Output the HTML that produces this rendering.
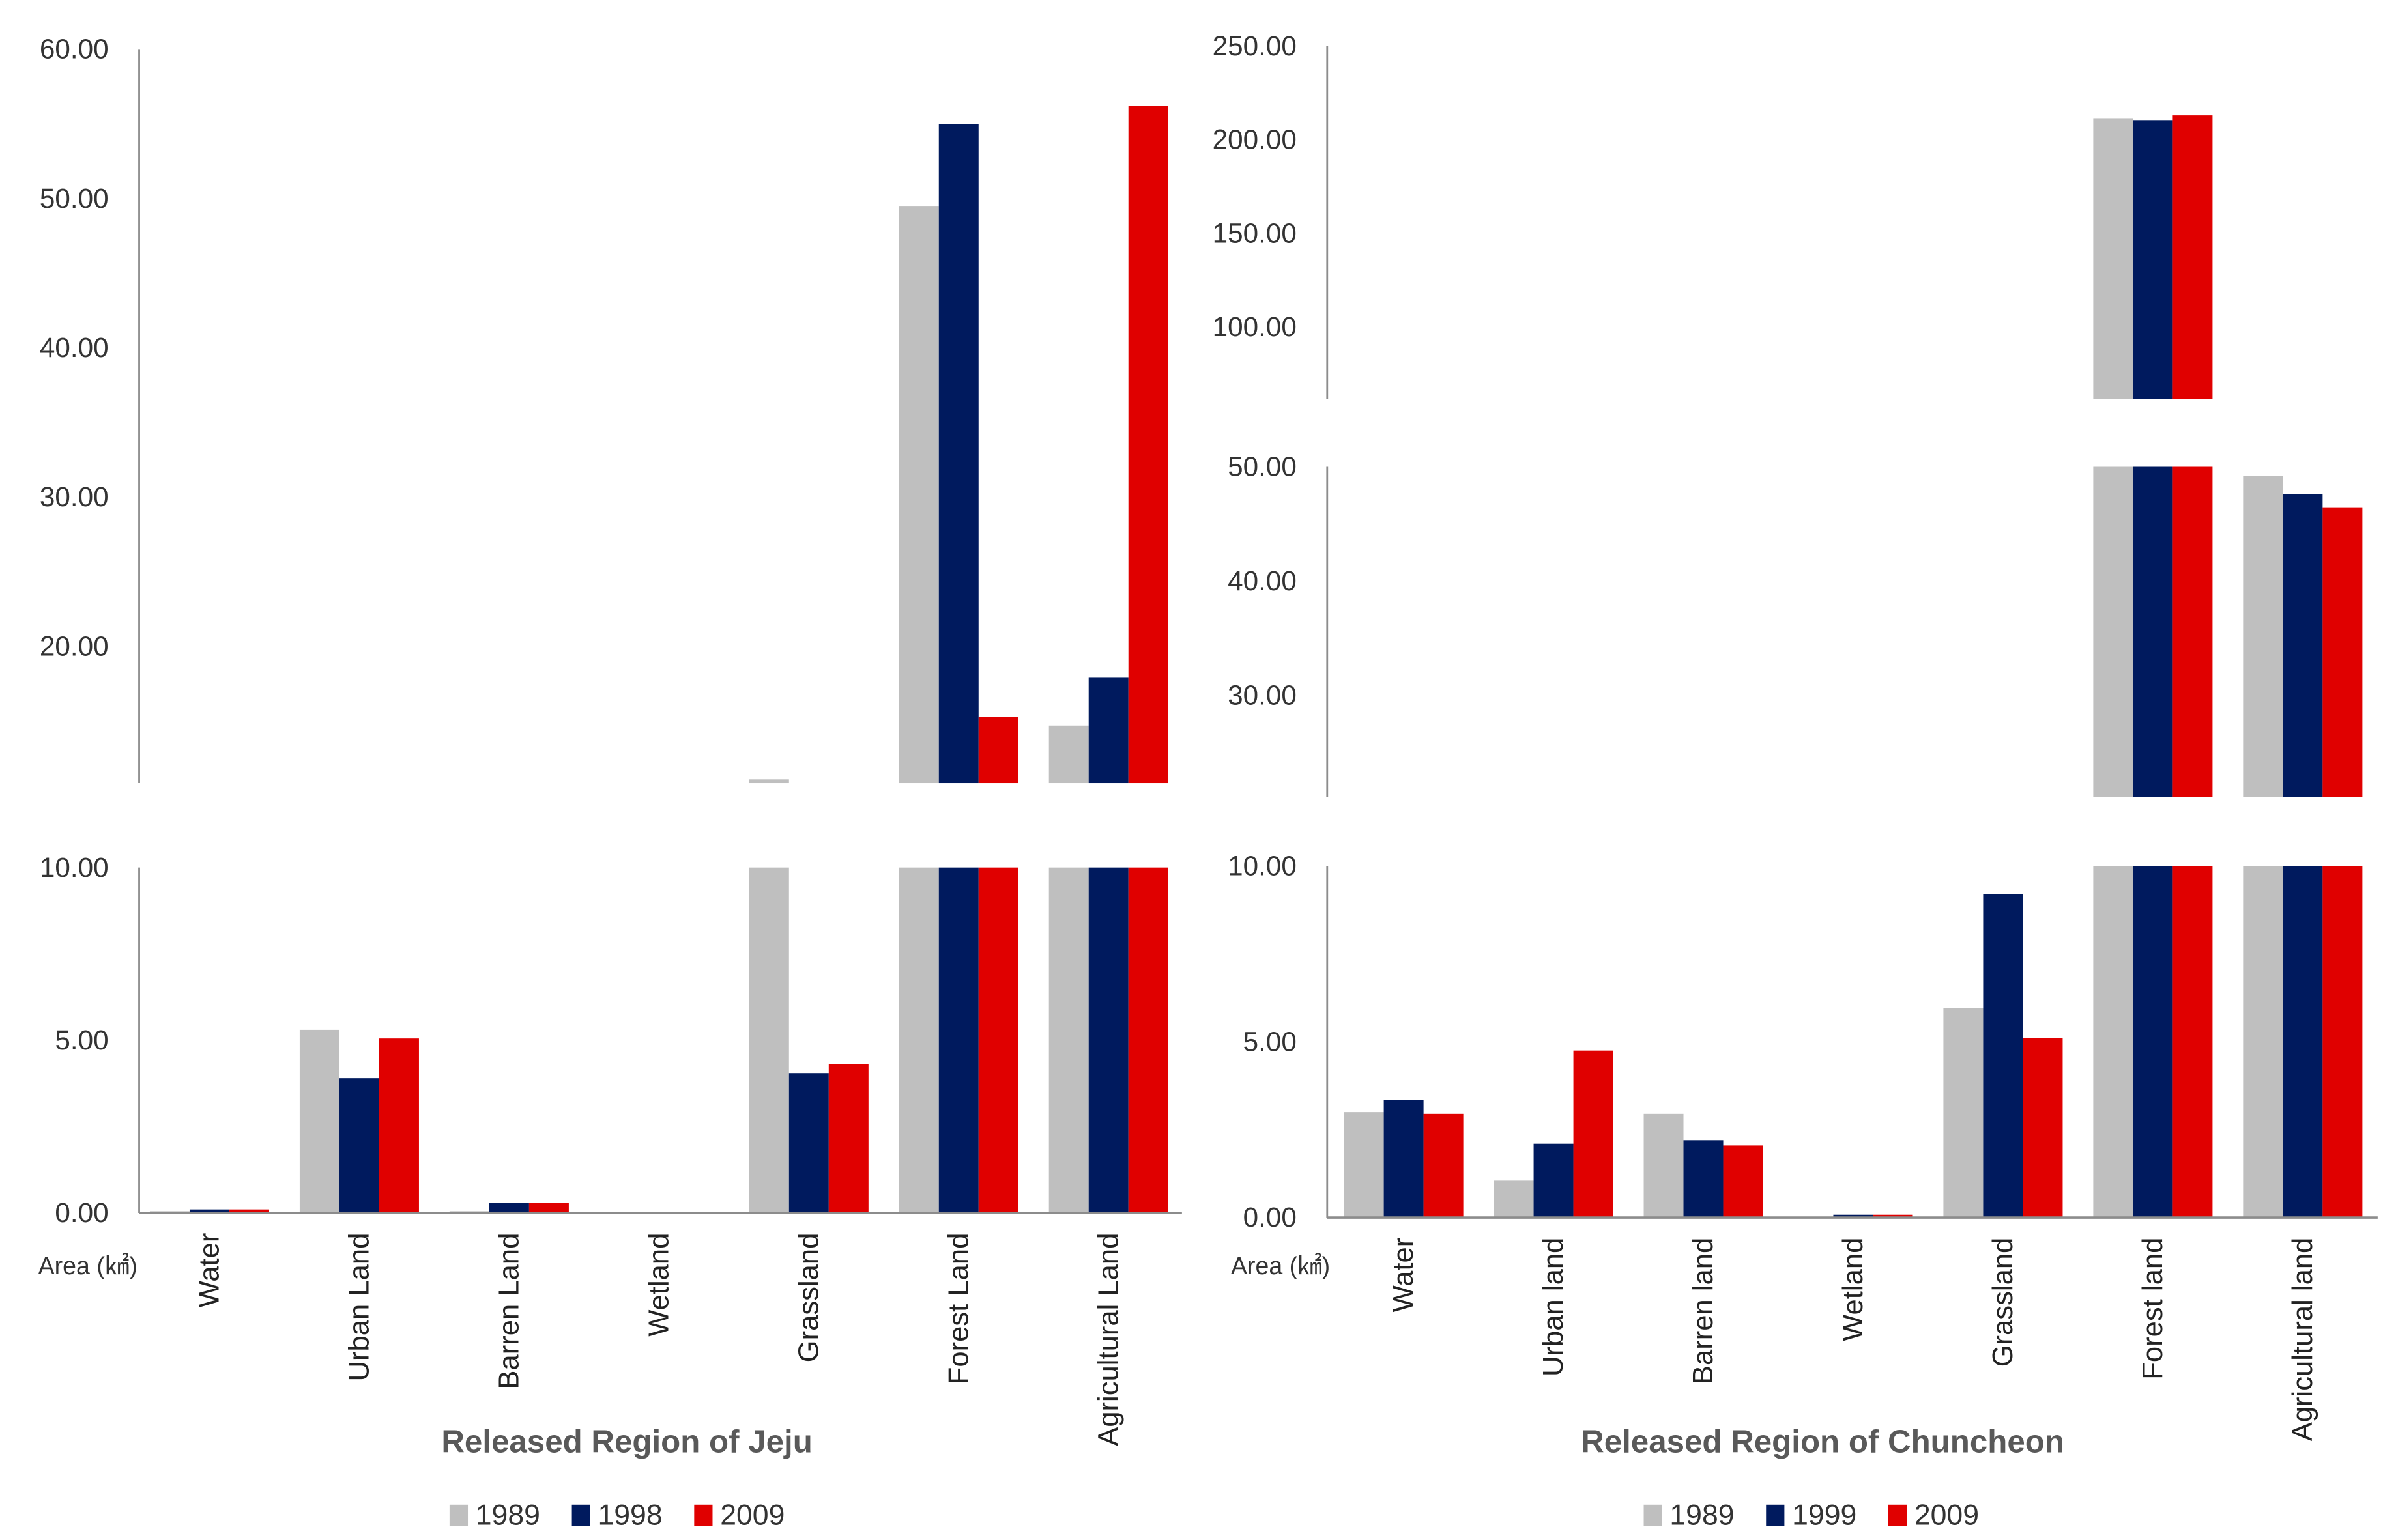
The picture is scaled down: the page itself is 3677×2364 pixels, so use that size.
<!DOCTYPE html>
<html><head><meta charset="utf-8"><style>
html,body{margin:0;padding:0;background:#fff;}
svg{display:block;}
text{font-family:"Liberation Sans","Noto Sans CJK KR",sans-serif;}
</style></head><body>
<svg id="chart" width="3677" height="2364" viewBox="0 0 1567 1003" preserveAspectRatio="none"></svg>
<script>
const jejuCategories = ["Water","Urban Land","Barren Land","Wetland","Grassland","Forest Land","Agricultural Land"];
const jejuYears = ["1989","1998","2009"];
const jeju1989 = [0.05, 5.3, 0.05, 0, 11.1, 49.5, 14.7];
const jeju1998 = [0.1, 3.9, 0.3, 0, 4.05, 55.0, 17.9];
const jeju2009 = [0.1, 5.05, 0.3, 0, 4.3, 15.3, 56.2];
const jejuTopTicks = ["20.00","30.00","40.00","50.00","60.00"];
const jejuBotTicks = ["0.00","5.00","10.00"];

const chunCategories = ["Water","Urban land","Barren land","Wetland","Grassland","Forest land","Agricultural land"];
const chunYears = ["1989","1999","2009"];
const chun1989 = [3.0, 1.05, 2.95, 0, 5.95, 211.5, 49.2];
const chun1999 = [3.35, 2.1, 2.2, 0.08, 9.2, 210.5, 47.6];
const chun2009 = [2.95, 4.75, 2.05, 0.08, 5.1, 213.0, 46.4];
const chunTopTicks = ["100.00","150.00","200.00","250.00"];
const chunMidTicks = ["30.00","40.00","50.00"];
const chunBotTicks = ["0.00","5.00","10.00"];

const colors = ["#bfbfbf","#001a5e","#e00000"];
const NS = "http://www.w3.org/2000/svg";
const svg = document.getElementById("chart");
function el(tag, attrs, parent){
  const e = document.createElementNS(NS, tag);
  for (const k in attrs) e.setAttribute(k, attrs[k]);
  (parent||svg).appendChild(e);
  return e;
}
function makeScale(d0,d1,p0,p1){ return v => p0 + (v-d0)*(p1-p0)/(d1-d0); }

function drawChart(o){
  const g = el("g",{});
  
  
  const xCenter = i => o.x0 + o.step*i;
  const bw = 26;
  o.panels.forEach((p,pi)=>{
    const y = makeScale(p.dmin,p.dmax,p.pBottom,p.pTop);
    const ax = el("line",{x1:o.axisX,x2:o.axisX,y1:p.pTop,y2:p.pBottom,stroke:"#8c8c8c","stroke-width":1.2},g);
    
    
    p.ticks.forEach(t=>{
      const tx = el("text",{x:o.labelX,y:y(parseFloat(t))+6,"text-anchor":"end","font-size":18,fill:"#333"},g);
      tx.textContent = t;
      
      
    });
    o.series.forEach((s,si)=>{
      s.forEach((v,ci)=>{
        if (v <= p.dmin && !p.base) return;
        const top = Math.min(v,p.dmax);
        const bottomVal = p.dmin;
        if (top <= bottomVal) return;
        const yt = y(top), yb = y(bottomVal);
        const r = el("rect",{x:xCenter(ci)-1.5*bw+si*bw,y:yt,width:bw,height:Math.max(yb-yt,0.8),fill:colors[si]},g);
        
        
      });
    });
    if (p.base){
      const b = el("line",{x1:o.axisX,x2:o.baseEnd,y1:p.pBottom,y2:p.pBottom,stroke:"#8c8c8c","stroke-width":1.5},g);
      
      
    }
  });
  o.cats.forEach((c,i)=>{
    const cx = xCenter(i)+6;
    const t = el("text",{x:0,y:0,transform:"translate("+cx+","+o.catTop+") rotate(-90)","text-anchor":"end","font-size":18.5,fill:"#222"},g);
    t.textContent = c;
    
    
  });
  const ar = el("text",{x:o.areaX,y:830,"font-size":16,fill:"#333"},g);
  ar.textContent = "Area (㎢)";
  
  
  const tt = el("text",{x:o.titleX,y:946,"text-anchor":"middle","font-size":21,"font-weight":"bold",fill:"#595959"},g);
  tt.textContent = o.title;
  
  
  o.years.forEach((yr,i)=>{
    const lx = o.legX + i*80;
    const sq = el("rect",{x:lx,y:980,width:12,height:14,fill:colors[i]},g);
    
    
    const lt = el("text",{x:lx+17,y:993,"font-size":19,fill:"#333"},g);
    lt.textContent = yr;
    
    
  });
}

drawChart({
  name:"jeju-chart", prefix:"jeju", cats:jejuCategories, years:jejuYears,
  series:[jeju1989,jeju1998,jeju2009],
  axisX:91, labelX:71, baseEnd:773, x0:137, step:98, catTop:803,
  areaX:25, titleX:410, title:"Released Region of Jeju", legX:294,
  panels:[
    {dmin:10.85, dmax:60, pBottom:510, pTop:32, ticks:jejuTopTicks},
    {dmin:0, dmax:10, pBottom:790, pTop:565, ticks:jejuBotTicks, base:true}
  ]
});
drawChart({
  name:"chuncheon-chart", prefix:"chuncheon", cats:chunCategories, years:chunYears,
  series:[chun1989,chun1999,chun2009],
  axisX:868, labelX:848, baseEnd:1555, x0:918, step:98, catTop:806,
  areaX:805, titleX:1192, title:"Released Region of Chuncheon", legX:1075,
  panels:[
    {dmin:61.5, dmax:250, pBottom:260, pTop:30, ticks:chunTopTicks},
    {dmin:21.1, dmax:50, pBottom:519, pTop:304, ticks:chunMidTicks},
    {dmin:0, dmax:10, pBottom:793, pTop:564, ticks:chunBotTicks, base:true}
  ]
});
</script>
</body></html>
